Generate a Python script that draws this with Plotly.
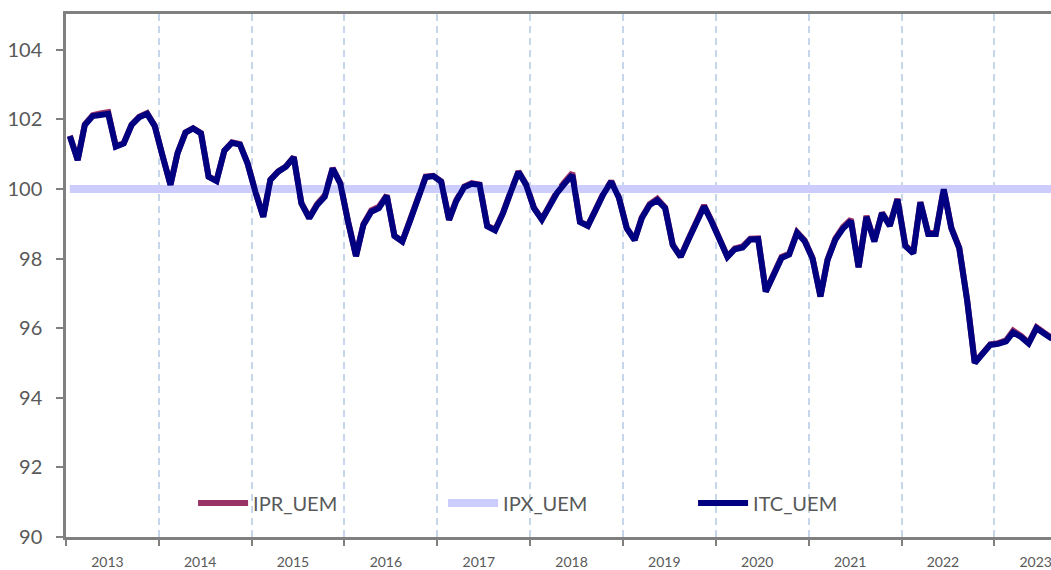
import pandas as pd
import plotly.graph_objects as go

# ---- data (monthly, Jan 2013 onward) ----
start_month = "2013-01-01"

itc_uem = [
    101.52, 100.83, 101.84, 102.10, 102.13, 102.16, 101.22, 101.31, 101.84, 102.06, 102.16, 101.81,
    100.95, 100.12, 101.03, 101.62, 101.74, 101.60, 100.35, 100.23, 101.10, 101.33, 101.28, 100.74,
    99.92, 99.20, 100.26, 100.50, 100.64, 100.91, 99.59, 99.16, 99.54, 99.78, 100.59, 100.16,
    99.05, 98.07, 98.97, 99.35, 99.45, 99.80, 98.65, 98.49, 99.10, 99.72, 100.34, 100.37,
    100.21, 99.11, 99.65, 100.05, 100.15, 100.12, 98.93, 98.81, 99.30, 99.90, 100.49, 100.12,
    99.45, 99.12, 99.50, 99.88, 100.15, 100.40, 99.05, 98.94, 99.40, 99.85, 100.21, 99.75,
    98.87, 98.53, 99.16, 99.54, 99.68, 99.45, 98.39, 98.05, 98.55, 99.05, 99.50, 99.06,
    98.55, 98.05, 98.27, 98.32, 98.55, 98.56, 97.05, 97.55, 98.02, 98.12, 98.74, 98.50,
    98.00, 96.91, 97.96, 98.55, 98.87, 99.08, 97.75, 99.20, 98.49, 99.30, 98.94, 99.70,
    98.36, 98.15, 99.61, 98.71, 98.71, 99.99, 98.87, 98.30, 96.80, 95.00, 95.25, 95.52,
    95.55, 95.62, 95.88, 95.75, 95.56, 96.00, 95.85, 95.70,
]

ipr_uem = [
    101.53, 100.84, 101.86, 102.12, 102.17, 102.21, 101.23, 101.32, 101.85, 102.08, 102.18, 101.82,
    100.95, 100.13, 101.04, 101.63, 101.75, 101.61, 100.36, 100.24, 101.11, 101.34, 101.29, 100.75,
    99.93, 99.21, 100.27, 100.51, 100.65, 100.92, 99.60, 99.18, 99.57, 99.82, 100.60, 100.17,
    99.06, 98.08, 98.99, 99.39, 99.49, 99.82, 98.66, 98.50, 99.12, 99.74, 100.36, 100.38,
    100.22, 99.12, 99.68, 100.07, 100.17, 100.13, 98.95, 98.83, 99.32, 99.92, 100.51, 100.14,
    99.46, 99.13, 99.53, 99.92, 100.20, 100.46, 99.06, 98.95, 99.42, 99.88, 100.23, 99.77,
    98.88, 98.54, 99.18, 99.57, 99.72, 99.47, 98.40, 98.06, 98.57, 99.08, 99.53, 99.08,
    98.56, 98.06, 98.29, 98.35, 98.57, 98.58, 97.06, 97.57, 98.05, 98.14, 98.76, 98.52,
    98.02, 96.92, 97.98, 98.58, 98.91, 99.13, 97.76, 99.23, 98.51, 99.32, 98.97, 99.72,
    98.38, 98.17, 99.63, 98.73, 98.74, 100.01, 98.89, 98.32, 96.82, 95.01, 95.27, 95.54,
    95.57, 95.65, 95.93, 95.78, 95.58, 96.03, 95.87, 95.72,
]

ipx_uem = [
    100.0, 100.0, 100.0, 100.0, 100.0, 100.0, 100.0, 100.0, 100.0, 100.0, 100.0, 100.0,
    100.0, 100.0, 100.0, 100.0, 100.0, 100.0, 100.0, 100.0, 100.0, 100.0, 100.0, 100.0,
    100.0, 100.0, 100.0, 100.0, 100.0, 100.0, 100.0, 100.0, 100.0, 100.0, 100.0, 100.0,
    100.0, 100.0, 100.0, 100.0, 100.0, 100.0, 100.0, 100.0, 100.0, 100.0, 100.0, 100.0,
    100.0, 100.0, 100.0, 100.0, 100.0, 100.0, 100.0, 100.0, 100.0, 100.0, 100.0, 100.0,
    100.0, 100.0, 100.0, 100.0, 100.0, 100.0, 100.0, 100.0, 100.0, 100.0, 100.0, 100.0,
    100.0, 100.0, 100.0, 100.0, 100.0, 100.0, 100.0, 100.0, 100.0, 100.0, 100.0, 100.0,
    100.0, 100.0, 100.0, 100.0, 100.0, 100.0, 100.0, 100.0, 100.0, 100.0, 100.0, 100.0,
    100.0, 100.0, 100.0, 100.0, 100.0, 100.0, 100.0, 100.0, 100.0, 100.0, 100.0, 100.0,
    100.0, 100.0, 100.0, 100.0, 100.0, 100.0, 100.0, 100.0, 100.0, 100.0, 100.0, 100.0,
    100.0, 100.0, 100.0, 100.0, 100.0, 100.0, 100.0, 100.0,
]

y_ticks = [90, 92, 94, 96, 98, 100, 102, 104]

# month categories placed mid-month (Excel date axis, between tick marks)
months = pd.date_range(start_month, periods=len(itc_uem), freq="MS") + pd.Timedelta(days=15)

GRAY_TXT = "#595959"
AXIS = "#808080"

fig = go.Figure()
fig.add_trace(go.Scatter(x=months, y=ipr_uem, name="IPR_UEM", mode="lines",
                         line=dict(color="#993366", width=6)))
fig.add_trace(go.Scatter(x=months, y=ipx_uem, name="IPX_UEM", mode="lines",
                         line=dict(color="#CCCCFF", width=8)))
fig.add_trace(go.Scatter(x=months, y=itc_uem, name="ITC_UEM", mode="lines",
                         line=dict(color="#000080", width=6)))

# white legend band (hides the dashed year lines behind the legend, as in the source)
fig.add_shape(type="rect", xref="paper", yref="paper",
              x0=0.085, x1=0.905, y0=0.03, y1=0.102,
              fillcolor="white", line=dict(width=0), layer="between")

fig.update_layout(
    width=1051, height=570,
    margin=dict(l=66, r=0, t=14, b=33, autoexpand=False),
    plot_bgcolor="white", paper_bgcolor="white",
    font=dict(family="Lato, 'Open Sans', sans-serif", color=GRAY_TXT),
    showlegend=True,
    legend=dict(orientation="h", x=0.129, xanchor="left", y=0.065, yanchor="middle",
                bgcolor="rgba(0,0,0,0)", font=dict(size=20, color=GRAY_TXT),
                itemwidth=50, entrywidth=185, entrywidthmode="pixels",
                traceorder="normal"),
    hovermode=False,
)

fig.update_xaxes(
    type="date",
    range=["2013-01-01", "2023-08-12"],
    dtick="M12", tick0="2013-01-01", tickformat="%Y", ticklabelmode="period",
    ticklabeloverflow="allow", automargin=False,
    ticklabelshift=-5,
    showgrid=True, gridcolor="#C6D7EB", gridwidth=2, griddash="7px,5px",
    showline=True, linecolor=AXIS, linewidth=2.5, mirror=True,
    ticks="outside", ticklen=6, tickwidth=2, tickcolor=AXIS,
    tickfont=dict(size=14, color=GRAY_TXT),
    ticklabelstandoff=4,
    zeroline=False,
)
fig.update_yaxes(
    range=[90, 105.03],
    tickvals=y_ticks,
    showgrid=False, zeroline=False, automargin=False,
    showline=True, linecolor=AXIS, linewidth=2.5,
    ticks="outside", ticklen=7, tickwidth=2, tickcolor=AXIS,
    tickfont=dict(size=20, color=GRAY_TXT),
    ticklabelstandoff=10,
)

fig.write_html("out.html", config={"displayModeBar": False},
               post_script="document.body.style.margin='0';document.body.style.overflow='hidden';")
